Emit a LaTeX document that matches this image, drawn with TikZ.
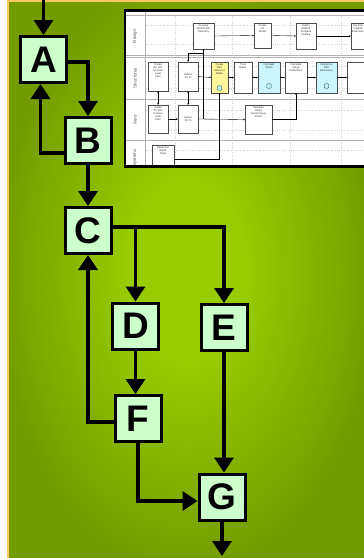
\documentclass[tikz,border=0pt]{standalone}
\usepackage{fontspec}
\setmainfont{Liberation Sans}
\usetikzlibrary{arrows.meta}
\definecolor{boxfill}{HTML}{CCFFCC}
\definecolor{orangeb}{HTML}{FFC864}
\definecolor{feayellow}{HTML}{FFF59A}
\definecolor{calccyan}{HTML}{CCF5FF}
\pgfdeclareradialshading{bgshade}{\pgfpoint{0bp}{1bp}}{rgb(0bp)=(0.6,0.8,0); rgb(8bp)=(0.6,0.8,0); rgb(27bp)=(0.45,0.605,0); rgb(50bp)=(0.45,0.605,0)}
\tikzset{
  bigbox/.style={draw, line width=3pt, fill=boxfill, minimum width=46pt, minimum height=46pt, inner sep=0pt, font=\fontsize{37}{37}\selectfont\bfseries},
  conn/.style={line width=3.5pt, -{Triangle[width=19pt,length=15pt]}},
  ibox/.style={draw=gray!60!black, line width=0.35pt, fill=white, inner sep=0pt, rectangle},
  itxt/.style={font=\fontsize{2.6}{3}\selectfont, align=center, inner sep=0pt, text=black!80},
  lanelbl/.style={rotate=90, font=\fontsize{4.5}{5}\selectfont, text=gray!70!black, inner sep=0pt},
  iarr/.style={line width=0.35pt, -{Stealth[length=1.6pt,width=1.5pt]}},
  iarr2/.style={line width=0.35pt, {Stealth[length=1.6pt,width=1.5pt]}-{Stealth[length=1.6pt,width=1.5pt]}},
  iline/.style={line width=0.35pt},
  lane/.style={gray!60, line width=0.4pt},
  grid/.style={gray!35, dotted, line width=0.3pt},
  icon/.style={draw=teal!60!black, fill=cyan!25, line width=0.35pt, rounded corners=0.8pt, minimum width=4.5pt, minimum height=4.5pt, inner sep=0pt}
}
\begin{document}
\begin{tikzpicture}[x=1pt,y=-1pt]
\useasboundingbox (0,0) rectangle (364,558);
\fill[white] (0,0) rectangle (364,558);
% green background
\shade[shading=bgshade] (9,2.3) rectangle (364,558);
\draw[orangeb, line width=1.6pt] (8.2,570) -- (8.2,1.2) -- (370,1.2);

% ---------- inset screenshot ----------
\begin{scope}
\clip (125,10.5) rectangle (366,166.5);
\fill[white] (125,10.5) rectangle (366,166.5);
% grid
\foreach \gx in {175,232,290,341} \draw[grid] (\gx,16) -- (\gx,167);
\foreach \gy in {25,44,66,88,110,130,150} \draw[grid] (146,\gy) -- (366,\gy);
% lane lines
\draw[lane] (125,15.5) -- (366,15.5);
\draw[lane] (145,10) -- (145,167);
\draw[lane] (125,55) -- (366,55);
\draw[lane] (125,57.5) -- (366,57.5);
\draw[lane] (125,99) -- (366,99);
\draw[lane] (125,140) -- (366,140);
% lane labels
\node[lanelbl] (lDesign) at (135,36) {Design};
\node[lanelbl] (lStruct) at (135,78) {Structures};
\node[lanelbl] (lAero) at (135,120) {Aero};
\node[lanelbl] (lSys) at (135,158) {Systems};
% design lane
\node[ibox, minimum width=21pt, minimum height=26pt] (dev) at (203.5,36) {};
\node[itxt, anchor=north] (devt) at ([yshift=-2pt]dev.north) {Develop\\Attachment\\Geometry};
\node[ibox, minimum width=17pt, minimum height=25pt] (c11) at (262.5,35.5) {};
\node[itxt, anchor=north] (c11t) at ([yshift=-2pt]c11.north) {Create\\1/1\\Model};
\node[ibox, minimum width=20pt, minimum height=26pt] (defm) at (306,36) {};
\node[itxt, anchor=north] (defmt) at ([yshift=-2pt]defm.north) {Define\\Method\\for Blade\\Sealing};
\node[ibox, minimum width=22pt, minimum height=26pt] (devi) at (362,36) {};
\node[itxt, anchor=north west] (devit) at ([xshift=1.2pt,yshift=-2pt]devi.north west) {Develop\\Integral\\Extension};
% structures lane
\node[ibox, minimum width=20pt, minimum height=29pt] (sac) at (158,76.5) {};
\node[itxt, anchor=north] (sact) at ([yshift=-1.5pt]sac.north) {Create\\AC File\\and Use\\Load\\Files};
\node[ibox, minimum width=20pt, minimum height=29pt] (ssel) at (188,76.5) {};
\node[itxt] (sselt) at (ssel.center) {Select\\1/1 \%};
\node[ibox, fill=feayellow, minimum width=17pt, minimum height=31pt] (fea) at (219.5,77.5) {};
\node[itxt, anchor=north] (feat) at ([yshift=-1.5pt]fea.north) {Create\\FEA\\Model of\\Blade};
\node[icon] (feai) at (219.5,88) {};
\node[ibox, minimum width=18pt, minimum height=31pt] (tune) at (243,77.5) {};
\node[itxt, anchor=north] (tunet) at ([yshift=-1.5pt]tune.north) {Tune\\Blade};
\node[ibox, fill=calccyan, minimum width=22pt, minimum height=31pt] (strs) at (269,77.5) {};
\node[itxt, anchor=north] (strst) at ([yshift=-1.5pt]strs.north) {Calculate\\Stress};
\node[icon] (strsi) at (269,86) {};
\node[ibox, minimum width=22pt, minimum height=31pt] (surg) at (296,77.5) {};
\node[itxt, anchor=north] (surgt) at ([yshift=-1.5pt]surg.north) {Calculate\\Surge\\Deflections};
\node[ibox, fill=calccyan, minimum width=21pt, minimum height=31pt] (fod) at (326.5,77.5) {};
\node[itxt, anchor=north] (fodt) at ([yshift=-1.5pt]fod.north) {Determine\\FOD\\Resistance};
\node[icon] (fodi) at (326.5,86) {};
\node[ibox, minimum width=21pt, minimum height=31pt] (emp) at (357.5,77.5) {};
% aero lane
\node[ibox, minimum width=20pt, minimum height=28pt] (aac) at (158,119) {};
\node[itxt, anchor=north] (aact) at ([yshift=-1.5pt]aac.north) {Create\\AC File\\and Use\\Load\\Files};
\node[ibox, minimum width=20pt, minimum height=28pt] (asel) at (188,119) {};
\node[itxt] (aselt) at (asel.center) {Select\\1/1 \%};
\node[ibox, minimum width=27pt, minimum height=29pt] (ovp) at (258.5,119.5) {};
\node[itxt, anchor=north] (ovpt) at ([yshift=-2pt]ovp.north) {Calculate\\Surge\\Overpressure\\Factor};
% systems lane
\node[ibox, minimum width=22pt, minimum height=26pt] (btmp) at (163,158) {};
\node[itxt, anchor=north] (btmpt) at ([yshift=-1.5pt]btmp.north) {Determine\\Blade\\Temp};
% inset connectors
\draw[iarr] (dev.east) -- (c11.west);
\draw[iarr] (c11.east) -- (defm.west);
\draw[iarr] (defm.east) -- (devi.west);
\coordinate (dj) at (203.5,53.5);
\draw[iarr] (dev.south) -- (dj) -| (ssel.north);
\draw[iline] (dj) -- (203.5,119);
\draw[iarr2] (sac.south) -- (aac.north);
\draw[iarr2] (ssel.south) -- (asel.north);
\draw[iarr] (aac.east) -- (asel.west);
\draw[iarr] (asel.east) -- (ovp.west);
\draw[iarr] (ssel.east) -- (fea.west);
\draw[iarr] (fea.east) -- (tune.west);
\draw[iarr] (tune.east) -- (strs.west);
\draw[iarr] (strs.east) -- (surg.west);
\draw[iarr] (surg.east) -- (fod.west);
\draw[iarr] (fod.east) -- (emp.west);
\draw[iarr] (ovp.east) -| (surg.south);
\draw[iarr] ([yshift=-1pt]btmp.east) -| (fea.south);
\end{scope}
\draw[line width=2.3pt] (125,10.5) rectangle (368,166.5);

% ---------- main flow ----------
\node[bigbox] (A) at (43.5,59.5) {A};
\node[bigbox] (B) at (88,140.5) {B};
\node[bigbox] (C) at (88,230.5) {C};
\node[bigbox] (D) at (135.5,326) {D};
\node[bigbox] (E) at (224,327.5) {E};
\node[bigbox] (F) at (138,418.5) {F};
\node[bigbox] (G) at (222,497) {G};
\coordinate (inA) at (43.5,-6);
\coordinate (outG) at (222,556);

\draw[conn] (inA) -- (A.north);
\draw[conn] ([yshift=-2.5pt]A.east) -| (B.north);
\draw[conn] ([yshift=-12.5pt]B.west) -| ([xshift=-3pt]A.south);
\draw[conn] (B.south) -- (C.north);
\draw[conn] ([yshift=3.5pt]C.east) -| (E.north);
\coordinate (cd) at ([yshift=3.5pt]C.east -| D.north);
\draw[conn] (cd) -- (D.north);
\draw[conn] (D.south) -- (D.south |- F.north);
\draw[conn] ([yshift=-3.5pt]F.west) -| (C.south);
\draw[conn] (F.south) |- ([yshift=-4pt]G.west);
\draw[conn] (E.south) -- (E.south |- G.north);
\draw[conn] (G.south) -- (outG);
\end{tikzpicture}
\end{document}
